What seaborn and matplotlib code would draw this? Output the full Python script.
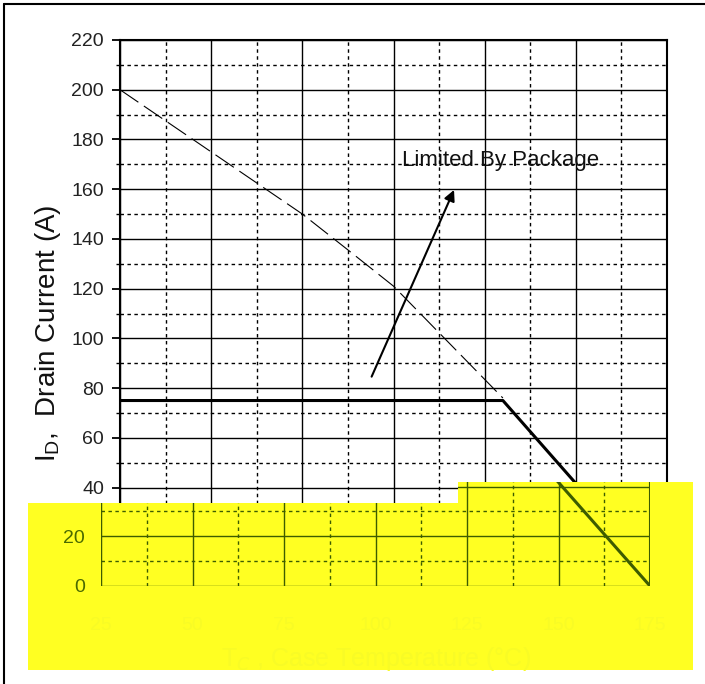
import numpy as np
import pandas as pd
import seaborn as sns
import matplotlib.pyplot as plt
from matplotlib.ticker import MultipleLocator
from matplotlib.patches import Polygon
from matplotlib.lines import Line2D

sns.set_style("ticks")
plt.rcParams['font.family'] = ['Liberation Sans', 'DejaVu Sans']
plt.rcParams['mathtext.fontset'] = 'custom'
plt.rcParams['mathtext.rm'] = 'Liberation Sans'

# data
temp_pkg = [25, 130, 175]          # case temperature (C)
id_pkg = [75, 75, 0]               # package limited drain current (A)
temp_si = [25, 50, 75, 88, 100, 110, 120, 130]
id_si = [200, 175, 150, 135, 121, 106, 91, 76]
x_ticks = [25, 50, 75, 100, 125, 150, 175]
y_ticks = list(range(0, 221, 20))

W, H = 705, 684
YELLOW = '#ffff22'
OLIVE = '#3d5c00'
FAINT = '#f8fb26'


def box(l, t, r, b):
    return [l / W, 1 - b / H, (r - l) / W, (b - t) / H]


def setup(ax, ink, labelcolor):
    ax.set_xlim(25, 175)
    ax.set_ylim(0, 220)
    ax.xaxis.set_major_locator(MultipleLocator(25))
    ax.xaxis.set_minor_locator(MultipleLocator(12.5))
    ax.yaxis.set_major_locator(MultipleLocator(20))
    ax.yaxis.set_minor_locator(MultipleLocator(10))
    ax.grid(which='major', color=ink, lw=1.0, ls='-')
    ax.grid(which='minor', color=ink, lw=1.0, ls=(0, (2.5, 2.5)))
    ax.tick_params(axis='y', which='major', direction='out', length=6,
                   width=1.3, labelsize=14, pad=5.5, color=ink,
                   labelcolor=labelcolor)
    ax.tick_params(axis='y', which='minor', direction='out', length=3,
                   width=1.0, color=ink)
    ax.tick_params(axis='x', which='both', length=0)
    for s in ax.spines.values():
        s.set_linewidth(1.5)
        s.set_color(ink)
    sns.lineplot(x=temp_si, y=id_si, ax=ax, color=ink, lw=0.8,
                 linestyle=(0, (20, 6)), estimator=None)
    sns.lineplot(x=temp_pkg, y=id_pkg, ax=ax, color=ink, lw=2.2,
                 estimator=None)
    ax.set_xlabel('')
    ax.set_ylabel('')


fig = plt.figure(figsize=(W / 100, H / 100), dpi=100)

# main chart
ax = fig.add_axes(box(120, 40, 667, 587))
setup(ax, 'black', '#222222')
ax.set_xticklabels([])
# the two lowest labels sit under the yellow overlay
ax.set_yticks(y_ticks)
ax.set_yticklabels(['' if v < 40 else str(v) for v in y_ticks])
ax.spines['bottom'].set_visible(False)
ax.annotate('', xy=(116.6, 159.7), xytext=(94, 84.6),
            arrowprops=dict(arrowstyle='-|>', lw=1.5, color='black',
                            mutation_scale=16, shrinkA=0, shrinkB=0))
ax.text(102.3, 169.4, 'Limited By Package', fontsize=16, va='baseline',
        ha='left', color='#111111')

fig.text(55 / W, 1 - 333 / H, r'$\mathregular{I_D}$,  Drain Current (A)',
         rotation=90, rotation_mode='anchor', ha='center', va='baseline',
         fontsize=20, color='#111111')

# outer frame (top and left edges only)
fig.add_artist(Line2D([4 / W, 1], [1 - 4 / H, 1 - 4 / H], color='black',
                      lw=1.5, transform=fig.transFigure))
fig.add_artist(Line2D([4 / W, 4 / W], [1 - 4 / H, 0], color='black',
                      lw=1.5, transform=fig.transFigure))

# yellow overlay with shifted copy of the lower part
pts = [(28, 670), (28, 503), (458, 503), (458, 482), (693, 482), (693, 670)]
pts = [(x / W, 1 - y / H) for x, y in pts]
fig.add_artist(Polygon(pts, closed=True, transform=fig.transFigure,
                       facecolor=YELLOW, edgecolor='none', zorder=3))

ax2 = fig.add_axes(box(101, 39, 650, 586))
ax2.set_zorder(4)
ax2.patch.set_visible(False)
setup(ax2, OLIVE, '#4a6a00')
ax2.set_yticks([0, 20, 40])
ax2.set_yticklabels(['0', '20', ''])
ax2.set_xticks(x_ticks)
ax2.set_xticklabels([str(t) for t in x_ticks], color=FAINT, fontsize=14)
ax2.tick_params(axis='x', pad=22)
ax2.set_xlabel('T$_C$ , Case Temperature (°C)', fontsize=18,
               color=FAINT, labelpad=8)
ax2.spines['top'].set_visible(False)
ax2.spines['bottom'].set_visible(False)

fig.canvas.draw()
clip = Polygon(pts, closed=True, transform=fig.transFigure)
arts = list(ax2.lines) + list(ax2.spines.values())
for axis in (ax2.xaxis, ax2.yaxis):
    for t in axis.majorTicks + axis.minorTicks:
        arts += [t.gridline, t.tick1line]
for a in arts:
    a.set_clip_on(True)
    a.set_clip_path(clip)

fig.savefig('out.png', dpi=100, facecolor='white')
